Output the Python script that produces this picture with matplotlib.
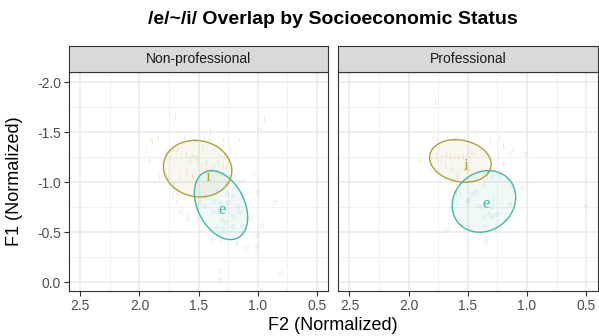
import numpy as np
import matplotlib
matplotlib.use("Agg")
import matplotlib.pyplot as plt
from matplotlib.ticker import MultipleLocator

# ---------------- data ----------------
panels = ["Non-professional", "Professional"]
vowels = ["i", "e"]

# Non-professional tokens
np_i_f2 = [1.699, 0.948, 0.981, 1.398, 1.905, 1.845, 1.891, 1.623, 1.296, 1.156, 1.398,
           1.944, 1.775, 1.680, 1.601, 1.553, 1.465, 1.229, 1.285, 1.919, 1.820, 1.742,
           1.643, 1.573, 1.516, 1.474, 1.432, 1.334, 1.291, 1.263, 1.212, 1.601, 1.558,
           1.834, 1.756, 1.657, 1.030, 1.714, 1.685, 1.714, 1.691, 1.516, 1.587, 1.446, 1.488]
np_i_f1 = [-1.644, -1.627, -1.520, -1.494, -1.427, -1.437, -1.394, -1.444, -1.427, -1.427, -1.410,
           -1.320, -1.310, -1.327, -1.277, -1.267, -1.334, -1.320, -1.277, -1.210, -1.210, -1.244,
           -1.227, -1.210, -1.194, -1.160, -1.127, -1.177, -1.160, -1.144, -1.127, -1.094, -1.054,
           -1.044, -1.044, -1.044, -1.077, -0.944, -0.894, -0.860, -0.794, -0.660, -0.677, -0.860, -0.794]
np_e_f2 = [1.440, 1.381, 1.522, 1.347, 1.296, 1.207, 1.165, 1.122, 1.254, 1.001, 1.347,
           1.263, 1.207, 1.136, 0.855, 1.651, 1.516, 1.446, 1.370, 1.319, 1.249, 1.165,
           1.376, 1.325, 1.150, 1.207, 1.587, 1.066, 1.305, 1.269, 0.967, 1.207, 1.136,
           1.347, 1.291, 1.001, 1.376, 1.311, 1.178, 1.094, 1.004, 1.319, 1.319, 0.807]
np_e_f1 = [-1.187, -1.144, -1.244, -1.094, -1.077, -1.067, -1.000, -1.010, -0.977, -0.910, -0.910,
           -0.877, -0.860, -0.877, -0.794, -0.710, -0.760, -0.760, -0.810, -0.787, -0.794, -0.760,
           -0.694, -0.710, -0.694, -0.660, -0.627, -0.627, -0.627, -0.594, -0.567, -0.560, -0.560,
           -0.544, -0.527, -0.467, -0.427, -0.420, -0.384, -0.334, -0.350, -0.120, -0.027, -0.084]

# Professional tokens
p_i_f2 = [1.774, 1.432, 1.791, 1.757, 1.312, 1.236, 1.204, 1.115, 1.909, 1.818, 1.768,
          1.726, 1.683, 1.650, 1.616, 1.579, 1.542, 1.481, 1.458, 1.692, 1.635, 1.593,
          1.529, 1.481, 1.247, 1.362, 1.599, 1.565, 1.289, 1.340]
p_i_f1 = [-1.800, -1.477, -1.437, -1.427, -1.410, -1.437, -1.354, -1.327, -1.210, -1.127, -1.244,
          -1.210, -1.277, -1.244, -1.244, -1.244, -1.244, -1.294, -1.287, -1.160, -1.127, -1.060,
          -1.127, -1.110, -1.244, -0.977, -0.877, -0.877, -0.827, -1.060]
p_e_f2 = [1.593, 1.143, 1.008, 1.199, 1.284, 1.227, 1.120, 1.041, 1.495, 1.466, 1.432,
          1.607, 1.416, 1.382, 1.297, 1.143, 1.362, 1.318, 1.297, 1.255, 1.354, 1.677,
          1.348, 1.348, 0.501, 1.503]
p_e_f1 = [-1.437, -1.284, -1.284, -1.177, -1.060, -1.060, -0.960, -0.934, -0.827, -0.877, -0.894,
          -0.794, -0.760, -0.760, -0.760, -0.777, -0.644, -0.677, -0.644, -0.677, -0.560, -0.520,
          -0.444, -0.394, -0.760, -0.810]

# ellipse summaries: centre (F2, F1), conjugate semi-diameters u=(du2, du1), v=(dv2, 0)
ell_cx = {"Non-professional": [1.509, 1.311], "Professional": [1.563, 1.364]}
ell_cy = {"Non-professional": [-1.137, -0.772], "Professional": [-1.214, -0.809]}
ell_ux = {"Non-professional": [0.0211, 0.0802], "Professional": [0.0422, -0.0366]}
ell_uy = {"Non-professional": [-0.283, -0.345], "Professional": [-0.213, -0.308]}
ell_vx = {"Non-professional": [-0.288, -0.2106], "Professional": [-0.257, -0.266]}

# vowel label positions (means)
lab_x = {"Non-professional": [1.423, 1.305], "Professional": [1.517, 1.343]}
lab_y = {"Non-professional": [-1.054, -0.727], "Professional": [-1.167, -0.784]}

tokens = {
    "Non-professional": {"i": (np_i_f2, np_i_f1), "e": (np_e_f2, np_e_f1)},
    "Professional": {"i": (p_i_f2, p_i_f1), "e": (p_e_f2, p_e_f1)},
}

x_ticks = [2.5, 2.0, 1.5, 1.0, 0.5]
y_ticks = [-2.0, -1.5, -1.0, -0.5, 0.0]

# ---------------- style ----------------
colors = {"i": "#ABA23C", "e": "#45B5A4"}
plt.rcParams['font.family'] = ['Liberation Sans', 'DejaVu Sans']

fig = plt.figure(figsize=(5.99, 3.36), dpi=100)
W, H = 599, 336
pan_left = [68.8, 338.0]
pan_w = 259.7
pan_top = 72.0
pan_bot = 291.0
strip_top = 46.0

t = np.linspace(0, 2 * np.pi, 300)
axes = []
for k, pname in enumerate(panels):
    ax = fig.add_axes([pan_left[k] / W, 1 - pan_bot / H, pan_w / W, (pan_bot - pan_top) / H])
    axes.append(ax)
    ax.set_xlim(2.597, 0.403)
    ax.set_ylim(0.087, -2.104)
    ax.set_facecolor("white")
    ax.xaxis.set_major_locator(MultipleLocator(0.5))
    ax.xaxis.set_minor_locator(MultipleLocator(0.25))
    ax.yaxis.set_major_locator(MultipleLocator(0.5))
    ax.yaxis.set_minor_locator(MultipleLocator(0.25))
    ax.grid(True, which="major", color="#EBEBEB", linewidth=1.2, zorder=0)
    ax.grid(True, which="minor", color="#F0F0F0", linewidth=0.7, zorder=0)
    ax.set_axisbelow(True)
    ax.set_xticks(x_ticks)
    ax.set_xticklabels(["%.1f" % v for v in x_ticks])
    ax.tick_params(axis="both", which="major", length=3.5, width=0.8, color="#333333",
                   labelsize=10, labelcolor="#4D4D4D", pad=2)
    ax.tick_params(axis="both", which="minor", length=0)
    if k == 0:
        ax.set_yticks(y_ticks)
        ax.set_yticklabels(["%.1f" % v for v in y_ticks])
    else:
        ax.set_yticks(y_ticks)
        ax.tick_params(axis="y", which="major", length=0, labelleft=False)
    for sp in ax.spines.values():
        sp.set_color("#333333")
        sp.set_linewidth(0.8)

    for vi, v in enumerate(vowels):
        xs, ys = tokens[pname][v]
        for xx, yy in zip(xs, ys):
            ax.text(xx, yy, v, color=colors[v], alpha=0.2, fontsize=7.5,
                    family=["Liberation Serif", "DejaVu Serif"], ha="center", va="center", zorder=2)
    for vi, v in enumerate(vowels):
        cx = ell_cx[pname][vi]; cy = ell_cy[pname][vi]
        ex = cx + ell_ux[pname][vi] * np.cos(t) + ell_vx[pname][vi] * np.sin(t)
        ey = cy + ell_uy[pname][vi] * np.cos(t)
        ax.fill(ex, ey, color=colors[v], alpha=0.08, lw=0, zorder=3)
        ax.plot(ex, ey, color=colors[v], lw=1.0, zorder=4)
    for vi, v in enumerate(vowels):
        ax.text(lab_x[pname][vi], lab_y[pname][vi], v, color=colors[v], fontsize=12,
                family=["Liberation Serif", "DejaVu Serif"], ha="center", va="center", zorder=5)

    # strip
    sax = fig.add_axes([pan_left[k] / W, 1 - pan_top / H, pan_w / W, (pan_top - strip_top) / H])
    sax.set_facecolor("#D9D9D9")
    sax.set_xticks([]); sax.set_yticks([])
    for sp in sax.spines.values():
        sp.set_color("#333333")
        sp.set_linewidth(0.8)
    sax.text(0.5, 0.5, pname, ha="center", va="center", fontsize=10, color="#1A1A1A",
             transform=sax.transAxes)

fig.text((pan_left[0] + pan_left[1] + pan_w) / 2 / W, 1 - 19 / H,
         "/e/~/i/ Overlap by Socioeconomic Status", ha="center", va="center",
         fontsize=14, fontweight="bold", color="black")
fig.text((pan_left[0] + pan_left[1] + pan_w) / 2 / W, 1 - 325 / H, "F2 (Normalized)",
         ha="center", va="center", fontsize=13, color="black")
fig.text(15 / W, 1 - (pan_top + pan_bot) / 2 / H, "F1 (Normalized)", ha="center", va="center",
         rotation=90, fontsize=13, color="black")

fig.savefig("out.png", dpi=100)
